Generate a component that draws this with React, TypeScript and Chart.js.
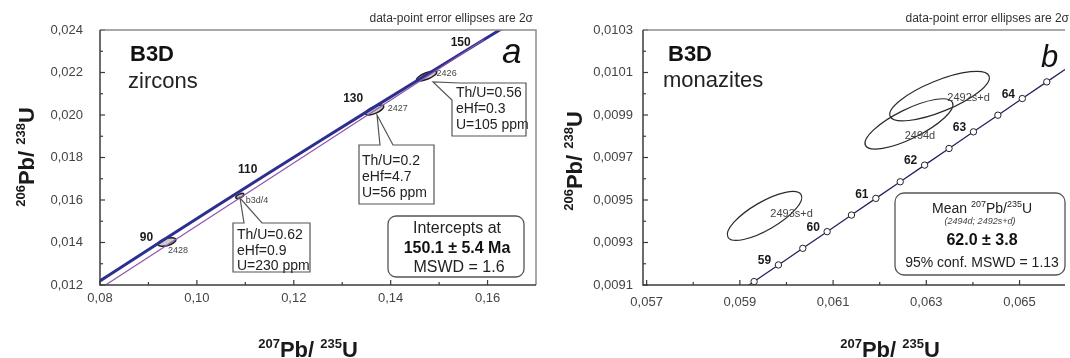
import React, { useEffect, useRef } from "react";
import { Chart, registerables } from "chart.js";
Chart.register(...registerables);

const FONT = '"Liberation Sans", Arial, Helvetica, sans-serif';

// ---------------- Panel a: zircons ----------------
const zirconAges = [75, 80, 90, 100, 110, 120, 130, 140, 150, 155];
const zirconConcX = [0.07666, 0.081975, 0.092683, 0.103498, 0.114419, 0.125449, 0.136588, 0.147837, 0.159197, 0.164919];
const zirconConcY = [0.011702, 0.012487, 0.014059, 0.015633, 0.01721, 0.018789, 0.020371, 0.021955, 0.023542, 0.024336];
const zirconLabelAges = [90, 110, 130, 150];
const discordiaX = [0.078, 0.1592];
const discordiaY = [0.011534, 0.023542];
const zirconXTicks = [0.08, 0.1, 0.12, 0.14, 0.16];
const zirconXMinor = [0.09, 0.11, 0.13, 0.15];
const zirconYTicks = [0.012, 0.014, 0.016, 0.018, 0.02, 0.022, 0.024];
const zirconYMinor = [0.013, 0.015, 0.017, 0.019, 0.021, 0.023];
const zirconSpots = ["2428", "b3d/4", "2427", "2426"];
const zirconSpotX = [0.09381, 0.108866, 0.1367, 0.14742];
const zirconSpotY = [0.014024, 0.016188, 0.020235, 0.021835];
const zirconSpotEndX = [0.09567, 0.10969, 0.13856, 0.149485];
const zirconSpotEndY = [0.014141, 0.016282, 0.020424, 0.022024];
const zirconSpotRatio = [0.38, 0.4, 0.35, 0.3];
const calloutSpots = ["2426", "2427", "b3d/4"];
const calloutThU = ["0.56", "0.2", "0.62"];
const calloutEHf = ["0.3", "4.7", "0.9"];
const calloutU = ["105", "56", "230"];
const interceptAge = "150.1";
const interceptErr = "5.4";
const interceptMSWD = "1.6";

// ---------------- Panel b: monazites ----------------
const monaziteAges = [58, 58.5, 59, 59.5, 60, 60.5, 61, 61.5, 62, 62.5, 63, 63.5, 64, 64.5, 65];
const monaziteConcX = [0.058784, 0.059306, 0.059827, 0.06035, 0.060872, 0.061394, 0.061917, 0.06244, 0.062963, 0.063487, 0.064011, 0.064535, 0.065059, 0.065584, 0.066109];
const monaziteConcY = [0.0090379, 0.0091161, 0.0091944, 0.0092727, 0.009351, 0.0094292, 0.0095075, 0.0095858, 0.0096642, 0.0097425, 0.0098208, 0.0098991, 0.0099775, 0.0100558, 0.0101341];
const monaziteLabelAges = [59, 60, 61, 62, 63, 64];
const monaziteXTicks = [0.057, 0.059, 0.061, 0.063, 0.065];
const monaziteXMinor = [0.058, 0.06, 0.062, 0.064];
const monaziteYTicks = [0.0091, 0.0093, 0.0095, 0.0097, 0.0099, 0.0101, 0.0103];
const monaziteYMinor = [0.0092, 0.0094, 0.0096, 0.0098, 0.01, 0.0102];
const monaziteSpots = ["2492s+d", "2494d", "2493s+d"];
const monaziteSpotX = [0.063284, 0.062627, 0.05953];
const monaziteSpotY = [0.009989, 0.009858, 0.009425];
const monaziteSpotEndX = [0.064345, 0.06356, 0.060315];
const monaziteSpotEndY = [0.010084, 0.009959, 0.009525];
const monaziteSpotRatio = [0.29, 0.3, 0.33];
const meanAge = "62.0";
const meanErr = "3.8";
const meanMSWD = "1.13";
const meanSpots = "(2494d; 2492s+d)";

// ---------------- helpers ----------------
type Seg = { t: string; size: number; bold?: boolean; italic?: boolean; dy?: number };
const fontOf = (s: Seg) => `${s.italic ? "italic " : ""}${s.bold ? "bold " : ""}${s.size}px ${FONT}`;

function drawRich(ctx: CanvasRenderingContext2D, segs: Seg[], x: number, y: number, align: "left" | "center" | "right") {
  let w = 0;
  for (const s of segs) {
    ctx.font = fontOf(s);
    w += ctx.measureText(s.t).width;
  }
  let cx = align === "center" ? x - w / 2 : align === "right" ? x - w : x;
  ctx.textAlign = "left";
  ctx.textBaseline = "alphabetic";
  for (const s of segs) {
    ctx.font = fontOf(s);
    ctx.fillText(s.t, cx, y + (s.dy || 0));
    cx += ctx.measureText(s.t).width;
  }
}

function text(ctx: CanvasRenderingContext2D, t: string, x: number, y: number, size: number, align: CanvasTextAlign, opts: { bold?: boolean; italic?: boolean; color?: string } = {}) {
  ctx.font = `${opts.italic ? "italic " : ""}${opts.bold ? "bold " : ""}${size}px ${FONT}`;
  ctx.fillStyle = opts.color || "#222";
  ctx.textAlign = align;
  ctx.textBaseline = "alphabetic";
  ctx.fillText(t, x, y);
}

function roundRect(ctx: CanvasRenderingContext2D, x0: number, y0: number, x1: number, y1: number, r: number) {
  ctx.beginPath();
  ctx.moveTo(x0 + r, y0);
  ctx.lineTo(x1 - r, y0);
  ctx.arcTo(x1, y0, x1, y0 + r, r);
  ctx.lineTo(x1, y1 - r);
  ctx.arcTo(x1, y1, x1 - r, y1, r);
  ctx.lineTo(x0 + r, y1);
  ctx.arcTo(x0, y1, x0, y1 - r, r);
  ctx.lineTo(x0, y0 + r);
  ctx.arcTo(x0, y0, x0 + r, y0, r);
  ctx.closePath();
}

function drawFrame(chart: any, xMaj: number[], xMin: number[], yMaj: number[], yMin: number[], showRight: boolean) {
  const { ctx, chartArea: a, scales } = chart;
  const xs = scales.x, ys = scales.y;
  ctx.save();
  ctx.strokeStyle = "#3a3a3a";
  ctx.lineWidth = 1.2;
  const tick = (vals: number[], len: number, horiz: boolean) => {
    for (const v of vals) {
      ctx.beginPath();
      if (horiz) {
        const p = xs.getPixelForValue(v);
        ctx.moveTo(p, a.bottom);
        ctx.lineTo(p, a.bottom - len);
      } else {
        const p = ys.getPixelForValue(v);
        ctx.moveTo(a.left, p);
        ctx.lineTo(a.left + len, p);
      }
      ctx.stroke();
    }
  };
  tick(xMaj, 5, true);
  tick(xMin, 3, true);
  tick(yMaj, 5, false);
  tick(yMin, 3, false);
  ctx.lineWidth = 1.5;
  ctx.strokeStyle = "#8c8c8c";
  ctx.beginPath();
  ctx.moveTo(a.left, a.top);
  ctx.lineTo(a.right, a.top);
  if (showRight) ctx.lineTo(a.right, a.bottom);
  ctx.stroke();
  ctx.strokeStyle = "#3c3c3c";
  ctx.beginPath();
  ctx.moveTo(a.left, a.top);
  ctx.lineTo(a.left, a.bottom);
  ctx.lineTo(a.right, a.bottom);
  ctx.stroke();
  ctx.restore();
}

function ellipsePix(chart: any, cx: number, cy: number, ex: number, ey: number, ratio: number) {
  const xs = chart.scales.x, ys = chart.scales.y;
  const px = xs.getPixelForValue(cx), py = ys.getPixelForValue(cy);
  const qx = xs.getPixelForValue(ex), qy = ys.getPixelForValue(ey);
  const r = Math.hypot(qx - px, qy - py);
  return { px, py, r, r2: r * ratio, ang: Math.atan2(qy - py, qx - px) };
}

function axisTitles(ctx: CanvasRenderingContext2D, xCenter: number, yBase: number, yTitleX: number, yTitleCenter: number) {
  ctx.save();
  ctx.fillStyle = "#1a1a1a";
  drawRich(ctx, [
    { t: "207", size: 13, bold: true, dy: -9 },
    { t: "Pb/ ", size: 22, bold: true },
    { t: "235", size: 13, bold: true, dy: -9 },
    { t: "U", size: 22, bold: true },
  ], xCenter, yBase, "center");
  ctx.translate(yTitleX, yTitleCenter);
  ctx.rotate(-Math.PI / 2);
  drawRich(ctx, [
    { t: "206", size: 13, bold: true, dy: -9 },
    { t: "Pb/ ", size: 22, bold: true },
    { t: "238", size: 13, bold: true, dy: -9 },
    { t: "U", size: 22, bold: true },
  ], 0, 0, "center");
  ctx.restore();
}

const fmt = (v: number, d: number) => Number(v).toFixed(d).replace(".", ",");

function scaleOpts(min: number, max: number, ticks: number[], digits: number, pad: number, fit: (s: any) => void) {
  return {
    type: "linear" as const,
    min,
    max,
    afterBuildTicks: (s: any) => {
      s.ticks = ticks.map((v) => ({ value: v }));
    },
    afterFit: fit,
    grid: { display: false, drawTicks: false },
    border: { display: false },
    ticks: {
      autoSkip: false,
      maxRotation: 0,
      padding: pad,
      color: "#444",
      font: { family: FONT, size: 13 },
      callback: (v: any) => fmt(v, digits),
    },
  };
}

// ---------------- Panel a config ----------------
function configA(): any {
  const concordia = zirconConcX.map((x, i) => ({ x, y: zirconConcY[i] }));
  const discordia = discordiaX.map((x, i) => ({ x, y: discordiaY[i] }));
  const labelOffsets = [[-15, -4.5], [-19, -6], [-21, -9], [-23, 2]];
  const spotLabelOffsets = [[1, 11], [6, 7], [13, 1], [10, 0]];
  const calloutLayout = [
    { poly: [[460, 83], [526, 83], [526, 136], [452, 136], [452, 100], [433, 82]], x: 456, ys: [92, 108, 124] },
    { poly: [[359, 145], [380, 145], [377, 115], [393, 145], [434, 145], [434, 204], [359, 204]], x: 362, ys: [160, 176, 192] },
    { poly: [[233, 223], [244, 223], [240, 198], [262, 223], [310, 223], [310, 272], [233, 272]], x: 237, ys: [234, 250, 265] },
  ];
  const decor = {
    id: "decorA",
    beforeDatasetsDraw(chart: any) {
      const ctx = chart.ctx as CanvasRenderingContext2D;
      ctx.save();
      zirconSpots.forEach((_, i) => {
        const e = ellipsePix(chart, zirconSpotX[i], zirconSpotY[i], zirconSpotEndX[i], zirconSpotEndY[i], zirconSpotRatio[i]);
        ctx.beginPath();
        ctx.ellipse(e.px, e.py, e.r, e.r2, e.ang, 0, Math.PI * 2);
        ctx.fillStyle = "rgba(110,110,110,0.35)";
        ctx.fill();
        ctx.strokeStyle = "#1e1e1e";
        ctx.lineWidth = 1.5;
        ctx.stroke();
      });
      ctx.restore();
    },
    afterDatasetsDraw(chart: any) {
      const ctx = chart.ctx as CanvasRenderingContext2D;
      const xs = chart.scales.x, ys = chart.scales.y;
      drawFrame(chart, zirconXTicks, zirconXMinor, zirconYTicks, zirconYMinor, true);
      ctx.save();
      zirconLabelAges.forEach((age, k) => {
        const i = zirconAges.indexOf(age);
        const px = xs.getPixelForValue(zirconConcX[i]) + labelOffsets[k][0];
        const py = ys.getPixelForValue(zirconConcY[i]) + labelOffsets[k][1];
        text(ctx, String(age), px, py + 4.3, 12, "center", { bold: true, color: "#1a1a1a" });
      });
      zirconSpots.forEach((s, i) => {
        const px = xs.getPixelForValue(zirconSpotX[i]) + spotLabelOffsets[i][0];
        const py = ys.getPixelForValue(zirconSpotY[i]) + spotLabelOffsets[i][1];
        text(ctx, s, px, py, 9, "left", { color: "#444" });
      });
      calloutSpots.forEach((_, k) => {
        const L = calloutLayout[k];
        ctx.beginPath();
        L.poly.forEach((p, j) => (j === 0 ? ctx.moveTo(p[0], p[1]) : ctx.lineTo(p[0], p[1])));
        ctx.closePath();
        ctx.fillStyle = "#fff";
        ctx.fill();
        ctx.strokeStyle = "#555";
        ctx.lineWidth = 1.2;
        ctx.stroke();
        const lines = [`Th/U=${calloutThU[k]}`, `eHf=${calloutEHf[k]}`, `U=${calloutU[k]} ppm`];
        lines.forEach((t, j) => text(ctx, t, L.x, L.ys[j] + 5, 14, "left", { color: "#222" }));
      });
      roundRect(ctx, 388, 216, 524, 277, 8);
      ctx.fillStyle = "#fff";
      ctx.fill();
      ctx.strokeStyle = "#555";
      ctx.lineWidth = 1.3;
      ctx.stroke();
      text(ctx, "Intercepts at", 457, 233, 16, "center", { color: "#222" });
      text(ctx, `${interceptAge} ± ${interceptErr} Ma`, 457, 253, 16, "center", { bold: true, color: "#111" });
      text(ctx, `MSWD = ${interceptMSWD}`, 459, 272, 16, "center", { color: "#222" });
      text(ctx, "data-point error ellipses are 2σ", 533, 22, 12, "right", { color: "#333" });
      text(ctx, "B3D", 130, 61, 22, "left", { bold: true, color: "#111" });
      text(ctx, "zircons", 128, 88, 22, "left", { color: "#222" });
      text(ctx, "a", 502, 63, 35, "left", { italic: true, color: "#111" });
      axisTitles(ctx, 308, 357, 34, 157);
      ctx.restore();
    },
  };
  return {
    type: "scatter",
    data: {
      datasets: [
        { data: discordia, showLine: true, borderColor: "#9055ad", borderWidth: 1.2, pointRadius: 0, clip: 0 },
        { data: concordia, showLine: true, borderColor: "#2c2f8e", borderWidth: 3, pointRadius: 0, clip: 0 },
      ],
    },
    options: {
      animation: false,
      responsive: false,
      devicePixelRatio: 1,
      layout: { padding: { top: 30, right: 4, left: 0, bottom: 0 } },
      plugins: { legend: { display: false }, tooltip: { enabled: false } },
      scales: {
        x: scaleOpts(0.08, 0.17, zirconXTicks, 2, 6, (s: any) => { s.height = 73; }),
        y: scaleOpts(0.012, 0.024, zirconYTicks, 3, 17, (s: any) => { s.width = 100; }),
      },
    },
    plugins: [decor],
  };
}

// ---------------- Panel b config ----------------
function configB(): any {
  const concordia = monaziteConcX.map((x, i) => ({ x, y: monaziteConcY[i] }));
  const spotLabelOffsets = [[29, 5], [11, 15], [27, 1]];
  const decor = {
    id: "decorB",
    beforeDatasetsDraw(chart: any) {
      const ctx = chart.ctx as CanvasRenderingContext2D;
      ctx.save();
      monaziteSpots.forEach((_, i) => {
        const e = ellipsePix(chart, monaziteSpotX[i], monaziteSpotY[i], monaziteSpotEndX[i], monaziteSpotEndY[i], monaziteSpotRatio[i]);
        ctx.beginPath();
        ctx.ellipse(e.px, e.py, e.r, e.r2, e.ang, 0, Math.PI * 2);
        ctx.strokeStyle = "#2a2a2a";
        ctx.lineWidth = 1.2;
        ctx.stroke();
      });
      ctx.restore();
    },
    afterDatasetsDraw(chart: any) {
      const ctx = chart.ctx as CanvasRenderingContext2D;
      const xs = chart.scales.x, ys = chart.scales.y;
      drawFrame(chart, monaziteXTicks, monaziteXMinor, monaziteYTicks, monaziteYMinor, false);
      ctx.save();
      monaziteLabelAges.forEach((age) => {
        const i = monaziteAges.indexOf(age);
        const px = xs.getPixelForValue(monaziteConcX[i]) - 14;
        const py = ys.getPixelForValue(monaziteConcY[i]) - 5;
        text(ctx, String(age), px, py + 4.3, 12, "center", { bold: true, color: "#1a1a1a" });
      });
      monaziteSpots.forEach((s, i) => {
        const px = xs.getPixelForValue(monaziteSpotX[i]) + spotLabelOffsets[i][0];
        const py = ys.getPixelForValue(monaziteSpotY[i]) + spotLabelOffsets[i][1];
        text(ctx, s, px, py, 11, "center", { color: "#444" });
      });
      roundRect(ctx, 355, 193, 525, 275, 9);
      ctx.fillStyle = "#fff";
      ctx.fill();
      ctx.strokeStyle = "#555";
      ctx.lineWidth = 1.3;
      ctx.stroke();
      ctx.fillStyle = "#222";
      drawRich(ctx, [
        { t: "Mean ", size: 14 },
        { t: "207", size: 9, dy: -6 },
        { t: "Pb/", size: 14 },
        { t: "235", size: 9, dy: -6 },
        { t: "U", size: 14 },
      ], 442, 213, "center");
      text(ctx, meanSpots, 440, 224, 9, "center", { italic: true, color: "#444" });
      text(ctx, `${meanAge} ± ${meanErr}`, 442, 245, 16, "center", { bold: true, color: "#111" });
      text(ctx, `95% conf. MSWD = ${meanMSWD}`, 442, 267, 14, "center", { color: "#222" });
      text(ctx, "data-point error ellipses are 2σ", 529, 22, 12, "right", { color: "#333" });
      text(ctx, "B3D", 128, 61, 22, "left", { bold: true, color: "#111" });
      text(ctx, "monazites", 123, 87, 22, "left", { color: "#222" });
      text(ctx, "b", 501, 67, 31, "left", { italic: true, color: "#111" });
      axisTitles(ctx, 350, 357, 42, 161);
      ctx.restore();
    },
  };
  return {
    type: "scatter",
    data: {
      datasets: [
        {
          data: concordia,
          showLine: true,
          borderColor: "#22235e",
          borderWidth: 1.3,
          pointRadius: 3.2,
          pointBackgroundColor: "#fff",
          pointBorderColor: "#222",
          pointBorderWidth: 1,
          clip: 0,
        },
      ],
    },
    options: {
      animation: false,
      responsive: false,
      devicePixelRatio: 1,
      layout: { padding: { top: 30, right: 0, left: 0, bottom: 0 } },
      plugins: { legend: { display: false }, tooltip: { enabled: false } },
      scales: {
        x: scaleOpts(0.056922, 0.065975, monaziteXTicks, 3, 10, (s: any) => { s.height = 73; }),
        y: scaleOpts(0.0091, 0.0103, monaziteYTicks, 4, 10, (s: any) => { s.width = 103; }),
      },
    },
    plugins: [decor],
  };
}

export default function App() {
  const refA = useRef<HTMLCanvasElement>(null);
  const refB = useRef<HTMLCanvasElement>(null);
  useEffect(() => {
    const a = new Chart(refA.current as HTMLCanvasElement, configA());
    const b = new Chart(refB.current as HTMLCanvasElement, configB());
    return () => {
      a.destroy();
      b.destroy();
    };
  }, []);
  return (
    <div style={{ position: "fixed", left: 0, top: 0, width: 1070, height: 358, background: "#fff", overflow: "hidden" }}>
      <canvas ref={refA} width={540} height={358} style={{ position: "absolute", left: 0, top: 0, width: 540, height: 358 }} />
      <canvas ref={refB} width={530} height={358} style={{ position: "absolute", left: 540, top: 0, width: 530, height: 358 }} />
    </div>
  );
}
